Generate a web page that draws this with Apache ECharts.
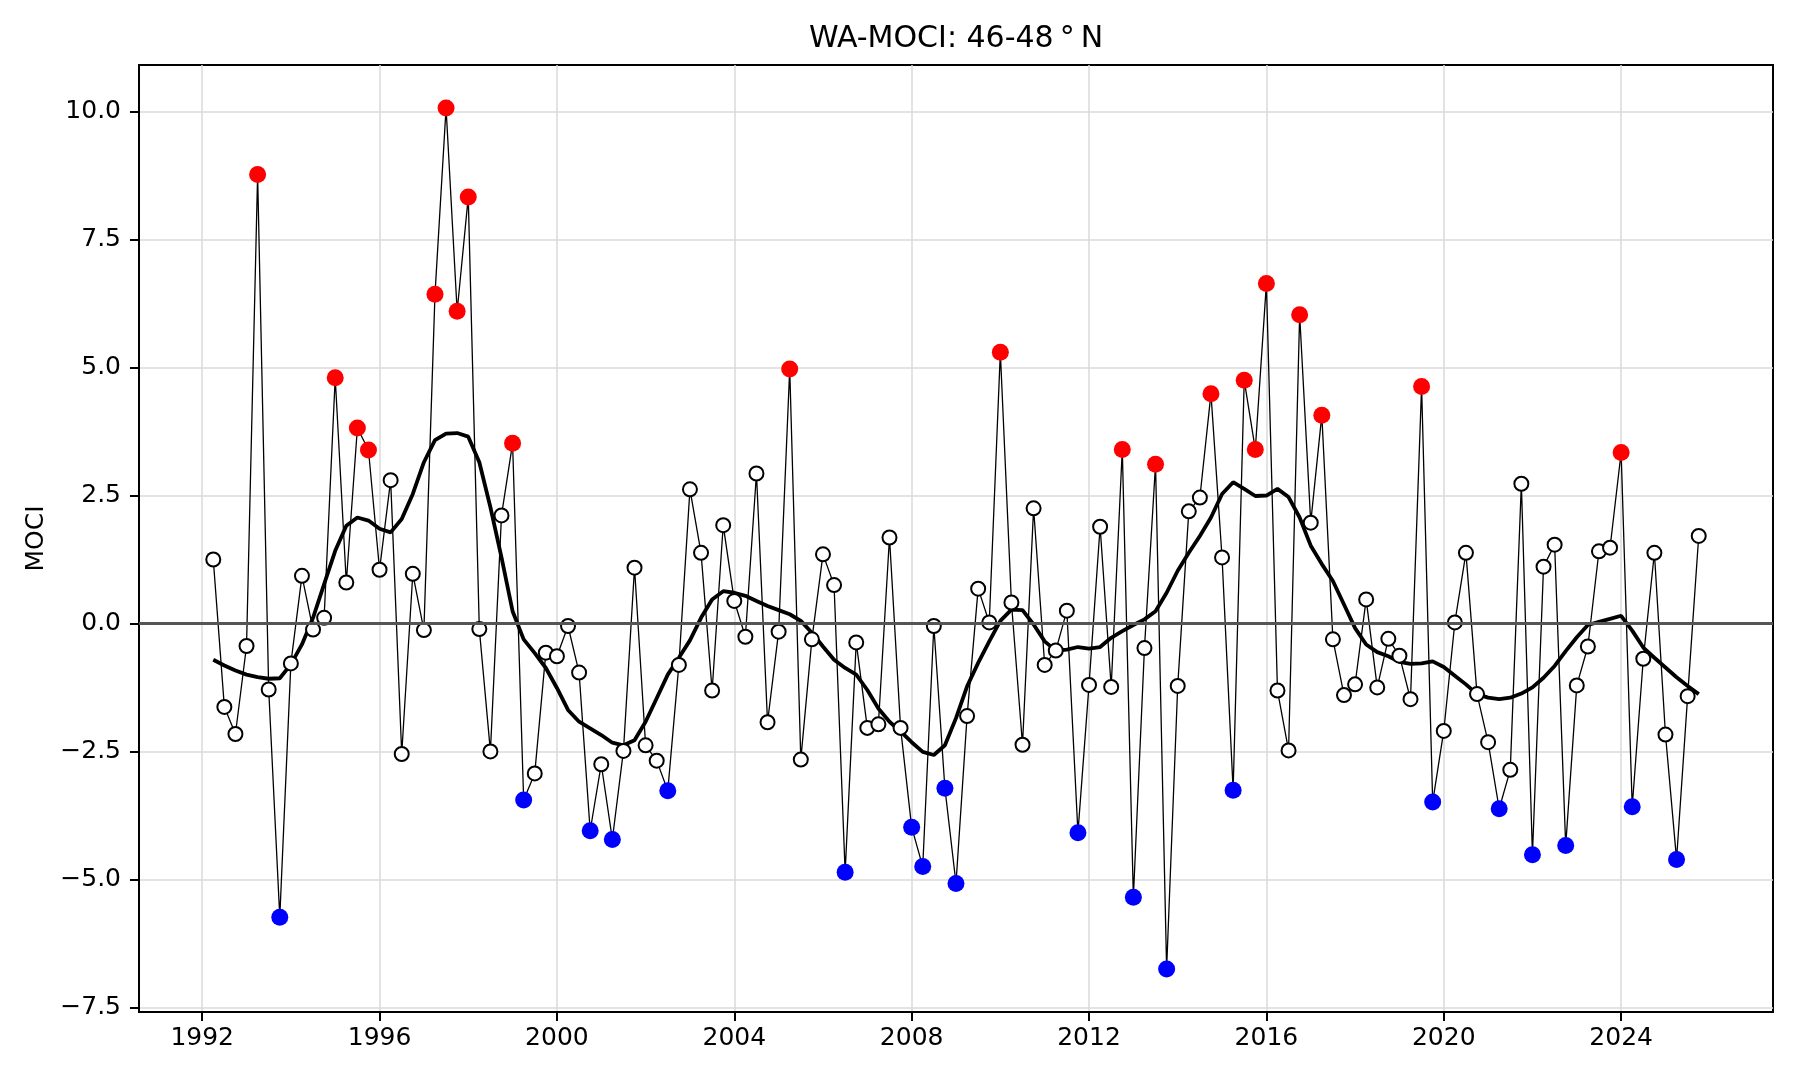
<!DOCTYPE html>
<html>
<head>
<meta charset="utf-8">
<title>WA-MOCI: 46-48°N</title>
<script src="https://cdn.jsdelivr.net/npm/echarts@6/dist/echarts.min.js"></script>
<style>
	html, body { margin: 0; padding: 0; background: #fff; }
	#mociChart { width: 1800px; height: 1080px; }
</style>
</head>
<body>
<div id="mociChart"></div>
<script>
// quarterly sample dates (decimal year)
var dates = [
	1992.25, 1992.50, 1992.75,
	1993.00, 1993.25, 1993.50, 1993.75,
	1994.00, 1994.25, 1994.50, 1994.75,
	1995.00, 1995.25, 1995.50, 1995.75,
	1996.00, 1996.25, 1996.50, 1996.75,
	1997.00, 1997.25, 1997.50, 1997.75,
	1998.00, 1998.25, 1998.50, 1998.75,
	1999.00, 1999.25, 1999.50, 1999.75,
	2000.00, 2000.25, 2000.50, 2000.75,
	2001.00, 2001.25, 2001.50, 2001.75,
	2002.00, 2002.25, 2002.50, 2002.75,
	2003.00, 2003.25, 2003.50, 2003.75,
	2004.00, 2004.25, 2004.50, 2004.75,
	2005.00, 2005.25, 2005.50, 2005.75,
	2006.00, 2006.25, 2006.50, 2006.75,
	2007.00, 2007.25, 2007.50, 2007.75,
	2008.00, 2008.25, 2008.50, 2008.75,
	2009.00, 2009.25, 2009.50, 2009.75,
	2010.00, 2010.25, 2010.50, 2010.75,
	2011.00, 2011.25, 2011.50, 2011.75,
	2012.00, 2012.25, 2012.50, 2012.75,
	2013.00, 2013.25, 2013.50, 2013.75,
	2014.00, 2014.25, 2014.50, 2014.75,
	2015.00, 2015.25, 2015.50, 2015.75,
	2016.00, 2016.25, 2016.50, 2016.75,
	2017.00, 2017.25, 2017.50, 2017.75,
	2018.00, 2018.25, 2018.50, 2018.75,
	2019.00, 2019.25, 2019.50, 2019.75,
	2020.00, 2020.25, 2020.50, 2020.75,
	2021.00, 2021.25, 2021.50, 2021.75,
	2022.00, 2022.25, 2022.50, 2022.75,
	2023.00, 2023.25, 2023.50, 2023.75,
	2024.00, 2024.25, 2024.50, 2024.75,
	2025.00, 2025.25, 2025.50, 2025.75
];

// MOCI values, same order as dates
var moci = [
	1.25, -1.63, -2.16,
	-0.44, 8.77, -1.29, -5.74,
	-0.78, 0.93, -0.12, 0.11,
	4.80, 0.80, 3.82, 3.39,
	1.05, 2.80, -2.55, 0.97,
	-0.13, 6.43, 10.07, 6.10,
	8.33, -0.11, -2.50, 2.11,
	3.52, -3.45, -2.93, -0.57,
	-0.64, -0.05, -0.96, -4.05,
	-2.75, -4.22, -2.49, 1.09,
	-2.38, -2.68, -3.27, -0.81,
	2.62, 1.38, -1.31, 1.92,
	0.44, -0.26, 2.93, -1.93,
	-0.16, 4.97, -2.66, -0.31,
	1.35, 0.75, -4.86, -0.37,
	-2.04, -1.97, 1.68, -2.04,
	-3.98, -4.75, -0.05, -3.22,
	-5.08, -1.81, 0.68, 0.02,
	5.30, 0.41, -2.37, 2.25,
	-0.81, -0.53, 0.25, -4.09,
	-1.20, 1.89, -1.24, 3.40,
	-5.35, -0.48, 3.11, -6.75,
	-1.22, 2.19, 2.46, 4.49,
	1.29, -3.26, 4.75, 3.40,
	6.64, -1.31, -2.48, 6.03,
	1.97, 4.07, -0.31, -1.40,
	-1.19, 0.47, -1.25, -0.30,
	-0.63, -1.48, 4.63, -3.49,
	-2.10, 0.02, 1.38, -1.38,
	-2.32, -3.62, -2.86, 2.73,
	-4.52, 1.11, 1.54, -4.34,
	-1.21, -0.45, 1.41, 1.48,
	3.34, -3.58, -0.69, 1.38,
	-2.17, -4.61, -1.42, 1.71
];

// smoothed curve
var smooth = [
	-0.71, -0.82, -0.92,
	-1.00, -1.05, -1.08, -1.07,
	-0.80, -0.41, 0.11, 0.77,
	1.42, 1.91, 2.07, 2.01,
	1.85, 1.78, 2.04, 2.53,
	3.15, 3.58, 3.71, 3.72,
	3.65, 3.15, 2.27, 1.29,
	0.24, -0.31, -0.58, -0.87,
	-1.26, -1.69, -1.92, -2.05,
	-2.18, -2.33, -2.38, -2.28,
	-1.92, -1.46, -1.00, -0.67,
	-0.33, 0.11, 0.47, 0.63,
	0.60, 0.54, 0.44, 0.34,
	0.26, 0.18, 0.05, -0.18,
	-0.45, -0.71, -0.87, -1.00,
	-1.30, -1.66, -1.92, -2.11,
	-2.32, -2.51, -2.57, -2.38,
	-1.85, -1.23, -0.77, -0.35,
	0.05, 0.27, 0.26, -0.02,
	-0.35, -0.53, -0.51, -0.46,
	-0.49, -0.46, -0.28, -0.15,
	-0.03, 0.08, 0.24, 0.60,
	1.03, 1.38, 1.71, 2.07,
	2.53, 2.76, 2.63, 2.49,
	2.50, 2.63, 2.47, 2.07,
	1.52, 1.16, 0.83, 0.37,
	-0.09, -0.41, -0.56, -0.64,
	-0.75, -0.79, -0.78, -0.74,
	-0.85, -1.02, -1.19, -1.38,
	-1.45, -1.48, -1.45, -1.37,
	-1.25, -1.06, -0.83, -0.54,
	-0.27, -0.03, 0.03, 0.09,
	0.15, -0.14, -0.47, -0.67,
	-0.86, -1.05, -1.22, -1.38
];

var xTicks = [1992, 1996, 2000, 2004, 2008, 2012, 2016, 2020, 2024];
var yTicks = [-7.5, -5.0, -2.5, 0.0, 2.5, 5.0, 7.5, 10.0];
var highLimit = 3;
var lowLimit = -3;

var linePts = [], openPts = [], highPts = [], lowPts = [], smoothPts = [];
dates.forEach(function(t, i){
	var v = moci[i];
	linePts.push([t, v]);
	smoothPts.push([t, smooth[i]]);
	if(v > highLimit){
		highPts.push([t, v]);
	}
	else if(v < lowLimit){
		lowPts.push([t, v]);
	}
	else{
		openPts.push([t, v]);
	}
});

// axis limits with a 5% margin around the data, like matplotlib does
var xSpan = dates[dates.length - 1] - dates[0];
var xMin = dates[0] - 0.05 * xSpan;
var xMax = dates[dates.length - 1] + 0.05 * xSpan;
var yLo = Math.min.apply(null, moci), yHi = Math.max.apply(null, moci);
var yMin = yLo - 0.05 * (yHi - yLo);
var yMax = yHi + 0.05 * (yHi - yLo);

var fontName = '"DejaVu Sans", sans-serif';

var myChart = echarts.init(document.getElementById('mociChart'), null, { renderer: 'canvas' });

var option = {
	animation: false,
	backgroundColor: '#fff',
	textStyle: { fontFamily: fontName },
	grid: {
		left: 139,
		right: 27,
		top: 65,
		bottom: 68,
		show: true,
		borderColor: '#000',
		borderWidth: 2,
		backgroundColor: 'transparent'
	},
	graphic: [{
		type: 'text',
		x: 956,
		y: 39,
		style: {
			text: 'WA-MOCI: 46-48\u2009°\u2009N',
			fontFamily: fontName,
			fontSize: 30,
			fill: '#000',
			textAlign: 'center',
			textVerticalAlign: 'middle'
		}
	}],
	xAxis: {
		type: 'value',
		min: xMin,
		max: xMax,
		axisLine: { show: true, onZero: false, lineStyle: { color: '#000', width: 2 } },
		axisTick: { show: true, length: 9, customValues: xTicks, lineStyle: { color: '#000', width: 2 } },
		axisLabel: {
			customValues: xTicks,
			fontSize: 25,
			color: '#000',
			margin: 14,
			fontFamily: fontName,
			formatter: function(v){ return String(v); }
		},
		splitLine: { show: true, lineStyle: { color: '#dadada', width: 1.5 } }
	},
	yAxis: {
		type: 'value',
		min: yMin,
		max: yMax,
		name: 'MOCI',
		nameLocation: 'middle',
		nameGap: 86,
		nameTextStyle: { fontSize: 25, color: '#000', fontFamily: fontName },
		axisLine: { show: true, onZero: false, lineStyle: { color: '#000', width: 2 } },
		axisTick: { show: true, length: 9, customValues: yTicks, lineStyle: { color: '#000', width: 2 } },
		axisLabel: {
			customValues: yTicks,
			fontSize: 25,
			color: '#000',
			margin: 18,
			fontFamily: fontName,
			formatter: function(v){ return v.toFixed(1).replace('-', '\u2212'); }
		},
		splitLine: { show: true, lineStyle: { color: '#dadada', width: 1.5 } }
	},
	series: [
		{
			name: 'MOCI',
			type: 'line',
			data: linePts,
			showSymbol: false,
			symbol: 'none',
			lineStyle: { color: '#000', width: 1.3 },
			z: 2,
			markLine: {
				silent: true,
				symbol: ['none', 'none'],
				label: { show: false },
				lineStyle: { color: '#555', width: 3, type: 'solid' },
				data: [{ yAxis: 0 }]
			}
		},
		{
			name: 'smooth',
			type: 'line',
			data: smoothPts,
			showSymbol: false,
			symbol: 'none',
			lineStyle: { color: '#000', width: 3.8 },
			z: 3
		},
		{
			name: 'normal',
			type: 'scatter',
			data: openPts,
			symbol: 'circle',
			symbolSize: 14,
			itemStyle: { color: '#fff', borderColor: '#000', borderWidth: 2, opacity: 1 },
			z: 4
		},
		{
			name: 'high',
			type: 'scatter',
			data: highPts,
			symbol: 'circle',
			symbolSize: 17,
			itemStyle: { color: '#ff0000', opacity: 1 },
			z: 4
		},
		{
			name: 'low',
			type: 'scatter',
			data: lowPts,
			symbol: 'circle',
			symbolSize: 17,
			itemStyle: { color: '#0000ff', opacity: 1 },
			z: 4
		}
	]
};

myChart.setOption(option);
</script>
</body>
</html>
